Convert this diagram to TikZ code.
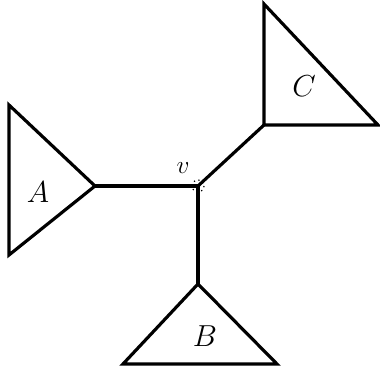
\documentclass[tikz,border=0pt]{standalone}
\usepackage{tikz}

\begin{document}
\begin{tikzpicture}[
  x=0.02cm, y=-0.02cm,
  edge/.style={line width=1.8pt, line join=miter},
  lbl/.style={font=\fontsize{16}{18}\selectfont, inner sep=0pt}
]
\useasboundingbox (0,0) rectangle (380,375);
% centre vertex and the three subtree roots
\coordinate (v) at (198,186);
\coordinate (ra) at (95,186);
\coordinate (rb) at (198,284);
\coordinate (rc) at (264,125);
% subtrees
\draw[edge] (ra) -- (9,105) -- (9,255) -- cycle;
\draw[edge] (rb) -- (123,364) -- (277,364) -- cycle;
\draw[edge] (rc) -- (264,4) -- (378,125) -- cycle;
\draw[edge] (ra) -- (v);
\draw[edge] (v) -- (rb);
\draw[edge] (v) -- (rc);
\draw[dotted, line width=0.7pt] (v) circle (6);
\node[lbl] (la) at (38,192) {$A$};
\node[lbl] (lb) at (205,336) {$B$};
\node[lbl] (lc) at (304,86) {$C$};
\node[lbl, font=\fontsize{14}{16}\selectfont] (lv) at (183,168) {$v$};
\end{tikzpicture}
\end{document}
